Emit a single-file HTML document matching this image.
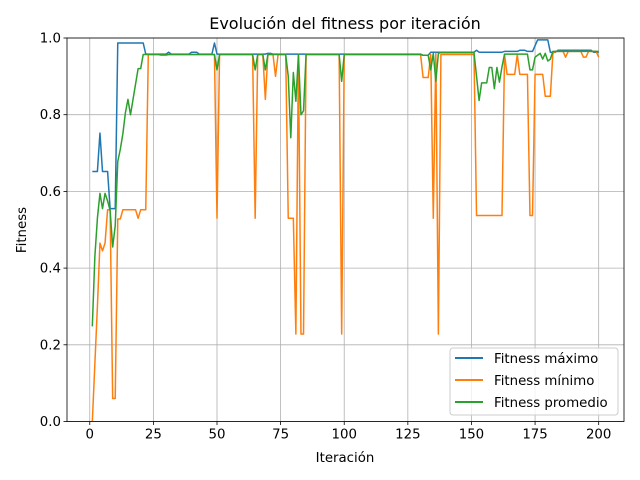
<!DOCTYPE html>
<html><head><meta charset="utf-8"><style>
html,body{margin:0;padding:0;background:#fff;}
svg{display:block;font-family:"DejaVu Sans","Liberation Sans",sans-serif;}
</style></head><body>
<svg id="chart" width="640" height="480" xmlns="http://www.w3.org/2000/svg">
<rect width="640" height="480" fill="#fff"/>
<text x="345" y="29" text-anchor="middle" font-size="16" fill="#000">Evolución del fitness por iteración</text>
<g id="grid"></g><g id="series"></g><g id="axes"></g>
<text x="345" y="462" text-anchor="middle" font-size="13.33">Iteración</text>
<text transform="translate(26,230) rotate(-90)" text-anchor="middle" font-size="13.33">Fitness</text>
<g>
<rect x="450" y="348" width="168" height="67" rx="3" fill="#fff" fill-opacity="0.8" stroke="#ccc"/>
<g><line x1="455" y1="358" x2="483" y2="358" stroke="#1f77b4" stroke-width="2"/><text x="494" y="363" font-size="13.33">Fitness máximo</text></g>
<g><line x1="455" y1="380" x2="483" y2="380" stroke="#ff7f0e" stroke-width="2"/><text x="494" y="385" font-size="13.33">Fitness mínimo</text></g>
<g><line x1="455" y1="402" x2="483" y2="402" stroke="#2ca02c" stroke-width="2"/><text x="494" y="407" font-size="13.33">Fitness promedio</text></g>
</g>
</svg>
<script>
const xTicks=[0,25,50,75,100,125,150,175,200];
const yTicks=[0.0,0.2,0.4,0.6,0.8,1.0];
const yTickLabels=["0.0","0.2","0.4","0.6","0.8","1.0"];
const fitMax=[.652,.652,.652,.752,.652,.652,.652,.555,.555,.555,
.987,.987,.987,.987,.987,.987,.987,.987,.987,.987,
.987,.958,.958,.958,.958,.958,.958,.958,.958,.958,
.963,.958,.958,.958,.958,.958,.958,.958,.958,.963,
.963,.963,.958,.958,.958,.958,.958,.958,.987,.958,
.958,.958,.958,.958,.958,.958,.958,.958,.958,.958,
.958,.958,.958,.958,.958,.958,.958,.958,.958,.96,
.96,.958,.958,.958,.958,.958,.958,.958,.958,.958,
.958,.958,.958,.958,.958,.958,.958,.958,.958,.958,
.958,.958,.958,.958,.958,.958,.958,.958,.958,.958,
.958,.958,.958,.958,.958,.958,.958,.958,.958,.958,
.958,.958,.958,.958,.958,.958,.958,.958,.958,.958,
.958,.958,.958,.958,.958,.958,.958,.958,.958,.958,
.955,.955,.955,.963,.963,.963,.963,.963,.963,.963,
.963,.963,.963,.963,.963,.963,.963,.963,.963,.963,
.963,.968,.963,.963,.963,.963,.963,.963,.963,.963,
.963,.963,.965,.965,.965,.965,.965,.965,.968,.968,
.968,.965,.965,.965,.98,.995,.995,.995,.995,.995,
.963,.963,.963,.968,.968,.968,.968,.968,.968,.968,
.968,.968,.968,.968,.968,.968,.968,.963,.963,.963];
const fitMin=[0,.15,.3,.465,.445,.465,.552,.552,.06,.06,
.528,.528,.552,.552,.552,.552,.552,.552,.53,.552,
.552,.552,.957,.957,.957,.957,.957,.955,.955,.955,
.957,.957,.957,.957,.957,.957,.957,.957,.957,.957,
.957,.957,.957,.957,.957,.957,.957,.957,.957,.53,
.957,.957,.957,.957,.957,.957,.957,.957,.957,.957,
.957,.957,.957,.957,.53,.957,.957,.957,.84,.957,
.957,.957,.9,.957,.957,.957,.957,.53,.53,.53,
.228,.957,.228,.228,.957,.957,.957,.957,.957,.957,
.957,.957,.957,.957,.957,.957,.957,.957,.228,.957,
.957,.957,.957,.957,.957,.957,.957,.957,.957,.957,
.957,.957,.957,.957,.957,.957,.957,.957,.957,.957,
.957,.957,.957,.957,.957,.957,.957,.957,.957,.957,
.897,.897,.897,.957,.53,.96,.228,.957,.957,.957,
.957,.957,.957,.957,.957,.957,.957,.957,.957,.957,
.957,.537,.537,.537,.537,.537,.537,.537,.537,.537,
.537,.537,.957,.905,.905,.905,.905,.957,.905,.905,
.905,.905,.537,.537,.905,.905,.905,.905,.848,.848,
.848,.96,.965,.965,.965,.965,.95,.965,.965,.965,
.965,.965,.965,.95,.95,.965,.965,.965,.965,.95];
const fitAvg=[.248,.43,.53,.595,.555,.595,.575,.55,.455,.51,
.678,.71,.75,.805,.84,.80,.84,.88,.92,.92,
.957,.957,.957,.957,.957,.957,.957,.957,.957,.957,
.957,.957,.957,.957,.957,.957,.957,.957,.957,.957,
.957,.957,.957,.957,.957,.957,.957,.957,.957,.917,
.957,.957,.957,.957,.957,.957,.957,.957,.957,.957,
.957,.957,.957,.957,.917,.957,.957,.957,.917,.957,
.957,.957,.957,.957,.957,.957,.957,.9,.74,.91,
.835,.957,.80,.81,.957,.957,.957,.957,.957,.957,
.957,.957,.957,.957,.957,.957,.957,.957,.887,.957,
.957,.957,.957,.957,.957,.957,.957,.957,.957,.957,
.957,.957,.957,.957,.957,.957,.957,.957,.957,.957,
.957,.957,.957,.957,.957,.957,.957,.957,.957,.957,
.955,.955,.955,.917,.96,.887,.96,.962,.962,.962,
.962,.962,.962,.962,.962,.962,.962,.962,.962,.962,
.962,.9,.837,.883,.883,.883,.923,.923,.868,.923,
.885,.925,.958,.958,.958,.958,.958,.958,.958,.958,
.958,.958,.917,.917,.95,.955,.96,.945,.96,.94,
.945,.965,.965,.965,.965,.965,.965,.965,.965,.965,
.965,.965,.965,.965,.965,.965,.965,.965,.965,.965];
const NS="http://www.w3.org/2000/svg";
const L=67,R=624,T=38,B=421.5,X0=-8.95,X1=209.95;
const xs=v=>L+(v-X0)/(X1-X0)*(R-L);
const ys=v=>B-v*(B-T);
function mk(tag,attrs,parent){const e=document.createElementNS(NS,tag);for(const k in attrs)e.setAttribute(k,attrs[k]);parent.appendChild(e);return e;}
const grid=document.getElementById('grid'),axes=document.getElementById('axes'),ser=document.getElementById('series');
xTicks.forEach(t=>{
 const x=xs(t);
 const g=mk('line',{x1:x,x2:x,y1:T,y2:B,stroke:'#b0b0b0','stroke-width':0.8},grid);
 
 
 mk('line',{x1:x,x2:x,y1:B,y2:B+3.5,stroke:'#000','stroke-width':0.8},axes);
 const tx=mk('text',{x:x,y:B+17,'text-anchor':'middle','font-size':13.33},axes);
 tx.textContent=String(t);
 
 
});
yTicks.forEach((t,i)=>{
 const y=ys(t);
 const g=mk('line',{x1:L,x2:R,y1:y,y2:y,stroke:'#b0b0b0','stroke-width':0.8},grid);
 
 
 mk('line',{x1:L-3.5,x2:L,y1:y,y2:y,stroke:'#000','stroke-width':0.8},axes);
 const tx=mk('text',{x:L-6,y:y+4.5,'text-anchor':'end','font-size':13.33},axes);
 tx.textContent=yTickLabels[i];
 
 
});
const frame=mk('rect',{x:L,y:T,width:R-L,height:B-T,fill:'none',stroke:'#000','stroke-width':0.8},axes);


[[fitMax,'#1f77b4','line-fitness-max'],[fitMin,'#ff7f0e','line-fitness-min'],[fitAvg,'#2ca02c','line-fitness-avg']].forEach(([arr,c,n])=>{
 const d=arr.map((v,i)=>(i?'L':'M')+xs(i+1).toFixed(2)+','+ys(v).toFixed(2)).join(' ');
 const p=mk('path',{d:d,fill:'none',stroke:c,'stroke-width':1.5,'stroke-linejoin':'round'},ser);
 
 
});
const cp=mk('clipPath',{id:'clip'},document.getElementById('chart'));
mk('rect',{x:L,y:T,width:R-L,height:B-T},cp);
ser.setAttribute('clip-path','url(#clip)');
</script>
</body></html>
